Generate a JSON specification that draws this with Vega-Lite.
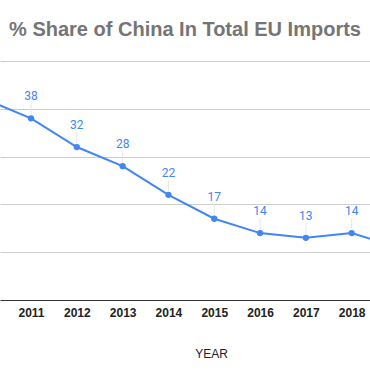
{
  "$schema": "https://vega.github.io/schema/vega-lite/v6.json",
  "autosize": "none",
  "width": 370,
  "height": 239,
  "padding": {"left": 0, "top": 61, "right": 0, "bottom": 71},
  "background": "white",
  "config": {"view": {"stroke": null}, "font": "Liberation Sans"},
  "title": {
    "text": "% Share of China In Total EU Imports",
    "anchor": "middle",
    "font": "Liberation Sans",
    "fontSize": 20,
    "fontWeight": "bold",
    "color": "#757575",
    "baseline": "alphabetic",
    "offset": 5
  },
  "data": {
    "values": [
      {"year": 2010, "value": 42},
      {"year": 2011, "value": 38},
      {"year": 2012, "value": 32},
      {"year": 2013, "value": 28},
      {"year": 2014, "value": 22},
      {"year": 2015, "value": 17},
      {"year": 2016, "value": 14},
      {"year": 2017, "value": 13},
      {"year": 2018, "value": 14},
      {"year": 2019, "value": 11}
    ]
  },
  "encoding": {
    "x": {
      "field": "year",
      "type": "quantitative",
      "scale": {"domain": [2010.323, 2018.4], "nice": false, "zero": false},
      "axis": {
        "values": [2011, 2012, 2013, 2014, 2015, 2016, 2017, 2018],
        "format": "d",
        "grid": false,
        "ticks": false,
        "labelPadding": 7,
        "labelFont": "Liberation Sans",
        "labelFontSize": 12,
        "labelFontWeight": "bold",
        "labelColor": "#222222",
        "domainColor": "#333333",
        "domainWidth": 1,
        "title": "YEAR",
        "titleFont": "Liberation Sans",
        "titleFontSize": 12,
        "titleFontWeight": "normal",
        "titleColor": "#222222",
        "titleX": 211,
        "titleY": 53,
        "titleBaseline": "middle",
        "titleAlign": "center"
      }
    },
    "y": {
      "field": "value",
      "type": "quantitative",
      "scale": {"domain": [0, 50], "nice": false},
      "axis": {
        "values": [0, 10, 20, 30, 40, 50],
        "labels": false,
        "ticks": false,
        "domain": false,
        "title": null,
        "grid": true,
        "gridColor": "#cccccc",
        "gridWidth": 1
      }
    }
  },
  "layer": [
    {
      "transform": [{"filter": "datum.year >= 2011 && datum.year <= 2018"}],
      "mark": {"type": "rule", "yOffset": -4, "y2Offset": -15, "color": "#e6e6e6", "strokeWidth": 1, "clip": true},
      "encoding": {"y2": {"field": "value"}}
    },
    {
      "mark": {"type": "line", "color": "#4285F4", "strokeWidth": 2, "clip": true}
    },
    {
      "mark": {"type": "point", "filled": true, "color": "#4285F4", "size": 40, "opacity": 1, "clip": true}
    },
    {
      "transform": [{"filter": "datum.year >= 2011 && datum.year <= 2018"}],
      "mark": {"type": "text", "dy": -22, "color": "#4285F4", "font": "Roboto", "fontSize": 12, "baseline": "middle", "clip": true},
      "encoding": {"text": {"field": "value", "type": "quantitative"}}
    }
  ]
}
